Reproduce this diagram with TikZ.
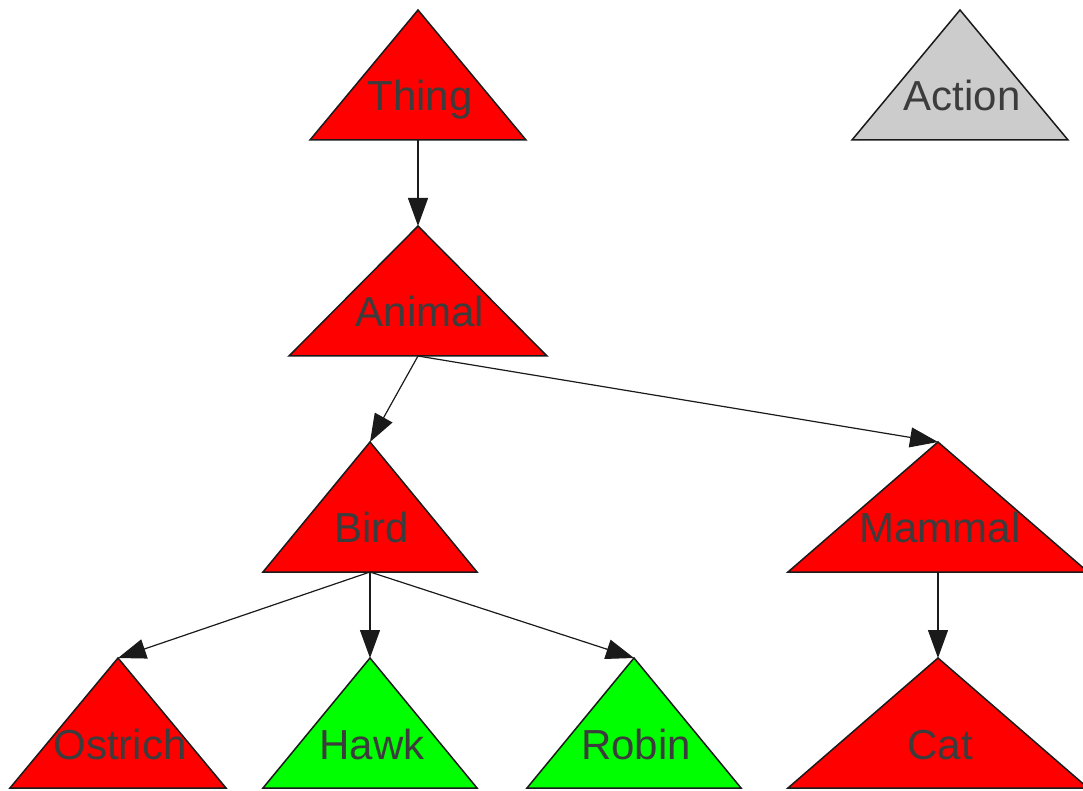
\documentclass[tikz,border=0pt]{standalone}
\usepackage{fontspec}
\setmainfont{Liberation Sans}
\usetikzlibrary{arrows.meta}

\definecolor{conceptred}{HTML}{FF0000}
\definecolor{conceptgreen}{HTML}{00FF00}
\definecolor{conceptgray}{HTML}{CCCCCC}
\definecolor{labelgray}{HTML}{3C3C3C}
\definecolor{edgegray}{HTML}{1A1A1A}

\tikzset{
  conceptshape/.style={draw=edgegray, line width=0.75pt, line join=miter},
  conceptlabel/.style={text=labelgray, inner sep=0pt, anchor=base,
    font=\fontsize{21}{25}\selectfont},
  link/.style={draw=edgegray, line width=0.6pt,
    -{Triangle[length=14pt,width=10pt]}},
}

% #1 name, #2 apex x, #3 apex y, #4 half base width, #5 fill, #6 label
\newcommand{\concept}[6]{%
  \filldraw[conceptshape, fill=#5] (#2,#3) -- ++(#4,130) -- ++({-2*#4},0) -- cycle;
  \coordinate (#1-apex) at (#2,#3);
  \coordinate (#1-base) at (#2,{#3+130});
  \node[conceptlabel] (#1) at ({#2+2},{#3+101}) {#6};
}

\begin{document}
\begin{tikzpicture}[x=0.5pt, y=-0.5pt]
  \useasboundingbox (0,0) rectangle (1083,791);
  \clip (0,0) rectangle (1083,791);

  % concept triangles
  \concept{thing}{418}{10}{108}{conceptred}{Thing}
  \concept{action}{960}{10}{108}{conceptgray}{Action}
  \concept{animal}{418}{226}{129}{conceptred}{Animal}
  \concept{bird}{370}{442}{107}{conceptred}{Bird}
  \concept{mammal}{938}{442}{150}{conceptred}{Mammal}
  \concept{ostrich}{118}{658}{108}{conceptred}{Ostrich}
  \concept{hawk}{370}{658}{107}{conceptgreen}{Hawk}
  \concept{robin}{634}{658}{107}{conceptgreen}{Robin}
  \concept{cat}{938}{658}{150}{conceptred}{Cat}

  % subclass links
  \draw[link] (thing-base) -- (animal-apex);
  \draw[link] (animal-base) -- (bird-apex);
  \draw[link] (animal-base) -- (mammal-apex);
  \draw[link] (bird-base) -- (ostrich-apex);
  \draw[link] (bird-base) -- (hawk-apex);
  \draw[link] (bird-base) -- (robin-apex);
  \draw[link] (mammal-base) -- (cat-apex);
\end{tikzpicture}
\end{document}
